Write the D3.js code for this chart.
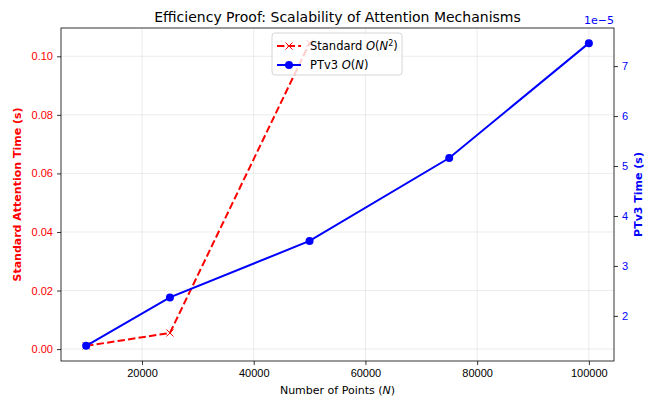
<!DOCTYPE html>
<html>
<head>
<meta charset="utf-8">
<script src="https://cdn.jsdelivr.net/npm/d3@7"></script>
<style>
  body { margin: 0; background: #fff; }
  svg { font-family: "DejaVu Sans", sans-serif; }
</style>
</head>
<body>
<div id="chart"></div>
<script>
// data
const points = [10000, 25000, 50000, 75000, 100000];
const standardTime = [0.0011, 0.0055, 0.1045, null, null];
const ptv3Time = [1.40e-5, 2.37e-5, 3.50e-5, 5.16e-5, 7.46e-5];
const xTicks = [20000, 40000, 60000, 80000, 100000];
const leftTicks = [0, 0.02, 0.04, 0.06, 0.08, 0.10];
const rightTicks = [2e-5, 3e-5, 4e-5, 5e-5, 6e-5, 7e-5];

const W = 649, H = 396;
const margin = {top: 28, right: 35, bottom: 35, left: 61};
const width = W - margin.left - margin.right;
const height = H - margin.top - margin.bottom;

// matplotlib-like 5% padding
function padded(vals) {
  const ext = d3.extent(vals.filter(v => v != null));
  const p = (ext[1] - ext[0]) * 0.05;
  return [ext[0] - p, ext[1] + p];
}

const x = d3.scaleLinear().domain(padded(points)).range([0, width]);
const yL = d3.scaleLinear().domain(padded(standardTime)).range([height, 0]);
const yR = d3.scaleLinear().domain(padded(ptv3Time)).range([height, 0]);

const svg = d3.select("#chart").append("svg")
  .attr("width", W).attr("height", H);

const g = svg.append("g")
  .attr("transform", "translate(" + margin.left + "," + margin.top + ")");

// grid
g.append("g").selectAll("line").data(xTicks).enter().append("line")
  .attr("x1", d => x(d)).attr("x2", d => x(d))
  .attr("y1", 0).attr("y2", height)
  .attr("stroke", "#b0b0b0").attr("stroke-opacity", 0.3).attr("stroke-width", 0.8);
g.append("g").selectAll("line").data(leftTicks).enter().append("line")
  .attr("y1", d => yL(d)).attr("y2", d => yL(d))
  .attr("x1", 0).attr("x2", width)
  .attr("stroke", "#b0b0b0").attr("stroke-opacity", 0.3).attr("stroke-width", 0.8);

// axes
function style(ax, color) {
  ax.select(".domain").remove();
  ax.selectAll(".tick line").attr("stroke", "#000").attr("stroke-width", 0.8);
  ax.selectAll(".tick text").attr("fill", color).style("font-size", "11px");
}

g.append("g")
  .attr("transform", "translate(0," + height + ")")
  .call(d3.axisBottom(x).tickValues(xTicks).tickSize(4).tickPadding(4).tickFormat(d3.format("d")))
  .call(ax => style(ax, "#000"));

g.append("g")
  .call(d3.axisLeft(yL).tickValues(leftTicks).tickSize(4).tickPadding(4).tickFormat(d3.format(".2f")))
  .call(ax => style(ax, "red"));

g.append("g")
  .attr("transform", "translate(" + width + ",0)")
  .call(d3.axisRight(yR).tickValues(rightTicks).tickSize(4).tickPadding(4).tickFormat(d => Math.round(d * 1e5)))
  .call(ax => style(ax, "blue"));

// frame
g.append("rect").attr("width", width).attr("height", height)
  .attr("fill", "none").attr("stroke", "#000").attr("stroke-width", 0.8);

// clip
g.append("clipPath").attr("id", "clip").append("rect")
  .attr("width", width).attr("height", height);

const plot = g.append("g").attr("clip-path", "url(#clip)");

// standard line
const stdData = points.map((p, i) => [p, standardTime[i]]).filter(d => d[1] != null);
plot.append("path").datum(stdData)
  .attr("fill", "none").attr("stroke", "red").attr("stroke-width", 2)
  .attr("stroke-dasharray", "7.4,3.2")
  .attr("d", d3.line().x(d => x(d[0])).y(d => yL(d[1])));

const xm = 3.5;
const xPath = "M" + -xm + "," + -xm + "L" + xm + "," + xm + "M" + -xm + "," + xm + "L" + xm + "," + -xm;
plot.append("g").selectAll("path").data(stdData).enter().append("path")
  .attr("transform", d => "translate(" + x(d[0]) + "," + yL(d[1]) + ")")
  .attr("d", xPath)
  .attr("stroke", "red").attr("stroke-width", 1).attr("fill", "none");

// ptv3 line
const ptData = points.map((p, i) => [p, ptv3Time[i]]);
plot.append("path").datum(ptData)
  .attr("fill", "none").attr("stroke", "blue").attr("stroke-width", 2)
  .attr("d", d3.line().x(d => x(d[0])).y(d => yR(d[1])));

plot.append("g").selectAll("circle").data(ptData).enter().append("circle")
  .attr("cx", d => x(d[0])).attr("cy", d => yR(d[1])).attr("r", 4)
  .attr("fill", "blue");

// legend
const lg = g.append("g").attr("transform", "translate(211,5)");
lg.append("rect").attr("width", 130).attr("height", 42).attr("rx", 3)
  .attr("fill", "#fff").attr("fill-opacity", 0.8)
  .attr("stroke", "#ccc").attr("stroke-width", 0.8);

lg.append("line").attr("x1", 5).attr("x2", 29).attr("y1", 13).attr("y2", 13)
  .attr("stroke", "red").attr("stroke-width", 2).attr("stroke-dasharray", "7.4,3.2");
lg.append("path").attr("transform", "translate(17,13)")
  .attr("d", xPath).attr("stroke", "red").attr("stroke-width", 1);
lg.append("line").attr("x1", 5).attr("x2", 29).attr("y1", 32).attr("y2", 32)
  .attr("stroke", "blue").attr("stroke-width", 2);
lg.append("circle").attr("cx", 17).attr("cy", 32).attr("r", 4).attr("fill", "blue");

const t1 = lg.append("text").attr("x", 38).attr("y", 17).style("font-size", "11.5px");
t1.append("tspan").text("Standard ");
t1.append("tspan").attr("font-style", "italic").text("O");
t1.append("tspan").text("(");
t1.append("tspan").attr("font-style", "italic").text("N");
t1.append("tspan").attr("font-size", "8px").attr("dy", -4).text("2");
t1.append("tspan").attr("dy", 4).text(")");

const t2 = lg.append("text").attr("x", 38).attr("y", 36).style("font-size", "11.5px");
t2.append("tspan").text("PTv3 ");
t2.append("tspan").attr("font-style", "italic").text("O");
t2.append("tspan").text("(");
t2.append("tspan").attr("font-style", "italic").text("N");
t2.append("tspan").text(")");

// titles
svg.append("text").attr("x", margin.left + width / 2).attr("y", 22)
  .attr("text-anchor", "middle").style("font-size", "14px")
  .text("Efficiency Proof: Scalability of Attention Mechanisms");

const xl = svg.append("text").attr("x", margin.left + width / 2).attr("y", 394)
  .attr("text-anchor", "middle").style("font-size", "11px");
xl.append("tspan").text("Number of Points (");
xl.append("tspan").attr("font-style", "italic").text("N");
xl.append("tspan").text(")");

svg.append("text")
  .attr("transform", "translate(21," + (margin.top + height / 2) + ") rotate(-90)")
  .attr("text-anchor", "middle").style("font-size", "11px").attr("font-weight", "bold")
  .attr("fill", "red").text("Standard Attention Time (s)");

svg.append("text")
  .attr("transform", "translate(642," + (margin.top + height / 2) + ") rotate(-90)")
  .attr("text-anchor", "middle").style("font-size", "11px").attr("font-weight", "bold")
  .attr("fill", "blue").text("PTv3 Time (s)");

svg.append("text").attr("x", margin.left + width).attr("y", 24)
  .attr("text-anchor", "end").style("font-size", "11px").attr("fill", "blue")
  .text("1e\u22125");
</script>
</body>
</html>
